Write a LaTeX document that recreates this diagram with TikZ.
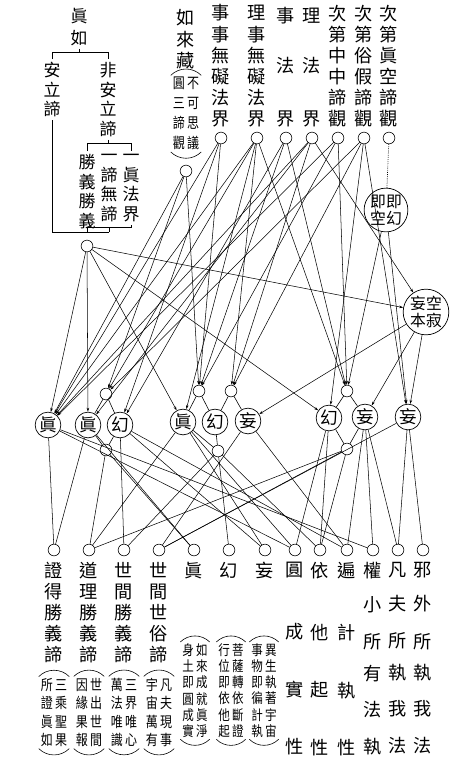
\documentclass[tikz,border=0pt]{standalone}
\usepackage{fontspec}
\setmainfont{Noto Sans CJK TC}
\newfontfamily\smallcjk[FakeStretch=0.82]{Noto Sans CJK TC}
\usetikzlibrary{positioning, arrows.meta}

\begin{document}
\begin{tikzpicture}[
    x = 0.3mm,
    y = -0.3mm,
    tree/.style = {
        align = center,
        inner sep = 2.5pt,
        font = {\fontsize{14.5}{16.8}\selectfont}
    },
    lab/.style = {
        align = center,
        inner sep = 0pt,
        font = {\fontsize{15.5}{18}\selectfont}
    },
    note/.style = {
        align = center,
        inner sep = 1.5pt,
        font = {\smallcjk\fontsize{12.5}{15.6}\selectfont}
    },
    notes/.style = {
        note,
        font = {\smallcjk\fontsize{12}{13.7}\selectfont}
    },
    dot/.style = {
        circle,
        draw,
        line width = 0.5pt,
        minimum size = 10pt,
        inner sep = 0pt
    },
    mid/.style = {
        circle,
        draw,
        line width = 0.6pt,
        minimum size = 22pt,
        inner sep = 0pt,
        font = {\fontsize{15}{15}\selectfont}
    },
    big/.style = {
        circle,
        draw,
        line width = 0.6pt,
        inner sep = 0pt,
        align = center,
        font = {\fontsize{13.5}{14.5}\selectfont}
    },
    brace/.style = {
        line width = 0.6pt
    },
    paren/.style = {
        line width = 0.5pt
    },
    link/.style = {
        ->,
        >={Stealth[length=3.5pt, width=2.2pt]},
        line width = 0.45pt
    },
    drop/.style = {
        line width = 0.45pt
    },
    tie/.style = {
        line width = 0.5pt
    }
]
    \useasboundingbox (0,0) rectangle (474,769);

    % Tree (top left)
    \node [tree, anchor = north] (zhenru) at (79,5) {眞\\[2pt]如};
    \node [tree, anchor = north] (anli) at (52,59) {安\\立\\諦};
    \node [tree, anchor = north] (feian) at (108,59) {非\\安\\立\\諦};
    \node [tree, anchor = north] (sysy) at (87,151) {勝\\義\\勝\\義};
    \node [tree, anchor = north] (ywdi) at (109,151) {一\\諦\\無\\諦};
    \node [tree, anchor = north] (yzfj) at (131,151) {一\\眞\\法\\界};

    \draw [brace] (zhenru.south) -- ++(0,3) coordinate (k1);
    \draw [brace] (anli.north) |- (k1) -| (feian.north);
    \draw [brace] (feian.south) -- ++(0,3) coordinate (k2);
    \draw [brace] (sysy.north) |- (k2) -| (yzfj.north);
    \path (ywdi.south) ++(0,2) coordinate (k3);
    \draw [brace] (sysy.south) |- (k3) -| (yzfj.south);
    \draw [brace] (k3) -- ++(0,5) coordinate (k4);
    \draw [brace] (anli.south) |- (k4);

    \node [dot] (root) at (87,246) {};

    % Top row
    \node [dot] (c1) at (186,171) {};
    \node [dot] (c2) at (221,138) {};
    \node [dot] (c3) at (257,138) {};
    \node [dot] (c4) at (286,138) {};
    \node [dot] (c5) at (312,138) {};
    \node [dot] (c6) at (338,138) {};
    \node [dot] (c7) at (364,138) {};
    \node [dot] (c8) at (389,138) {};

    \node [note, above = 11pt of c1, font = {\smallcjk\fontsize{12.5}{17}\selectfont}] (rlzn) {圓\,不\\三\,可\\諦\,思\\觀\,議};
    \node [lab, above = 5pt of rlzn, font = {\fontsize{15.5}{18.3}\selectfont}] (rlzm) {如\\來\\藏};
    \node [lab, above = 4pt of c2] (t2) {事\\事\\無\\礙\\法\\界};
    \node [lab, above = 4pt of c3] (t3) {理\\事\\無\\礙\\法\\界};
    \node [lab, above = 4pt of c4] (t4) {事\\[25pt]法\\[27pt]界};
    \node [lab, above = 4pt of c5] (t5) {理\\[25pt]法\\[27pt]界};
    \node [lab, above = 4pt of c6] (t6) {次\\第\\中\\中\\諦\\觀};
    \node [lab, above = 4pt of c7] (t7) {次\\第\\俗\\假\\諦\\觀};
    \node [lab, above = 4pt of c8] (t8) {次\\第\\眞\\空\\諦\\觀};

    \draw [paren] (rlzn.north west) to [bend left = 45] (rlzn.north east);
    \draw [paren] (rlzn.south west) to [bend right = 45] (rlzn.south east);

    % Side circles
    \node [big, minimum size = 34pt] (jhjk) at (386,210) {即即\\空幻};
    \node [big, minimum size = 39pt] (kjwb) at (426,312) {妄空\\本寂};
    \draw [densely dotted, line width = 0.6pt] (c8) -- (jhjk);

    % Middle row
    \node [mid] (m1) at (48,425) {眞};
    \node [mid] (m2) at (88,425) {眞};
    \node [mid] (m3) at (120,425) {幻};
    \node [mid] (m4) at (183,422) {眞};
    \node [mid] (m5) at (215,422) {幻};
    \node [mid] (m6) at (248,421) {妄};
    \node [mid] (m7) at (329,418) {幻};
    \node [mid] (m8) at (365,417) {妄};
    \node [mid] (m9) at (408,417) {妄};

    \node [dot] (s1) at (106,394) {};
    \node [dot] (s2) at (106,450) {};
    \node [dot] (s3) at (199,391) {};
    \node [dot] (s4) at (231,391) {};
    \node [dot] (s5) at (218,451) {};
    \node [dot] (s6) at (347,391) {};
    \node [dot] (s7) at (347,449) {};

    \draw [tie] (s1) -- (m2);
    \draw [tie] (s1) -- (m3);
    \draw [tie] (s2) -- (m2);
    \draw [tie] (s2) -- (m3);
    \draw [tie] (s3) -- (m4);
    \draw [tie] (s3) -- (m5);
    \draw [tie] (s4) -- (m5);
    \draw [tie] (s4) -- (m6);
    \draw [tie] (s5) -- (m4);
    \draw [tie] (s5) -- (m5);
    \draw [tie] (s6) -- (m7);
    \draw [tie] (s6) -- (m8);
    \draw [tie] (s7) -- (m7);
    \draw [tie] (s7) -- (m8);

    % Bottom row
    \node [dot] (b1) at (54,550) {};
    \node [dot] (b2) at (89,550) {};
    \node [dot] (b3) at (124,550) {};
    \node [dot] (b4) at (159,550) {};
    \node [dot] (b5) at (194,550) {};
    \node [dot] (b6) at (229,550) {};
    \node [dot] (b7) at (265,550) {};
    \node [dot] (b8) at (295,550) {};
    \node [dot] (b9) at (320,550) {};
    \node [dot] (b10) at (347,550) {};
    \node [dot] (b11) at (373,550) {};
    \node [dot] (b12) at (398,550) {};
    \node [dot] (b13) at (423,550) {};

    \node [lab, below = 5pt of b1] (l1) {證\\得\\勝\\義\\諦};
    \node [lab, below = 5pt of b2] (l2) {道\\理\\勝\\義\\諦};
    \node [lab, below = 5pt of b3] (l3) {世\\間\\勝\\義\\諦};
    \node [lab, below = 5pt of b4] (l4) {世\\間\\世\\俗\\諦};
    \node [lab, below = 5pt of b5] (l5) {眞};
    \node [lab, below = 5pt of b6] (l6) {幻};
    \node [lab, below = 5pt of b7] (l7) {妄};
    \node [lab, below = 5pt of b8] (l8) {圓\\[35pt]成\\[31pt]實\\[31pt]性};
    \node [lab, below = 5pt of b9] (l9) {依\\[35pt]他\\[31pt]起\\[31pt]性};
    \node [lab, below = 5pt of b10] (l10) {遍\\[35pt]計\\[31pt]執\\[31pt]性};
    \node [lab, below = 5pt of b11] (l11) {權\\[11pt]小\\[14pt]所\\[9pt]有\\[13pt]法\\[13pt]執};
    \node [lab, below = 5pt of b12] (l12) {凡\\[11pt]夫\\[14pt]所\\[9pt]執\\[13pt]我\\[13pt]法};
    \node [lab, below = 5pt of b13] (l13) {邪\\[11pt]外\\[14pt]所\\[9pt]執\\[13pt]我\\[13pt]法};

    \node [note, below = 11pt of l1] (p1) {所\,三\\證\,乘\\眞\,聖\\如\,果};
    \node [note, below = 11pt of l2] (p2) {因\,世\\緣\,出\\果\,世\\報\,間};
    \node [note, below = 11pt of l3] (p3) {萬\,三\\法\,界\\唯\,唯\\識\,心};
    \node [note, below = 11pt of l4] (p4) {宇\,凡\\宙\,夫\\萬\,現\\有\,事};
    \node [notes, anchor = north] (p5) at (195,642) {身\,如\\土\,來\\即\,成\\圓\,就\\成\,眞\\實\,淨};
    \node [notes, anchor = north] (p6) at (231,642) {行\,菩\\位\,薩\\即\,轉\\依\,依\\他\,斷\\起\,證};
    \node [notes, anchor = north] (p7) at (264,642) {事\,異\\物\,生\\即\,執\\徧\,著\\計\,宇\\執\,宙};

    \draw [paren] (p1.north west) to [bend left = 45] (p1.north east);
    \draw [paren] (p1.south west) to [bend right = 45] (p1.south east);
    \draw [paren] (p2.north west) to [bend left = 45] (p2.north east);
    \draw [paren] (p2.south west) to [bend right = 45] (p2.south east);
    \draw [paren] (p3.north west) to [bend left = 45] (p3.north east);
    \draw [paren] (p3.south west) to [bend right = 45] (p3.south east);
    \draw [paren] (p4.north west) to [bend left = 45] (p4.north east);
    \draw [paren] (p4.south west) to [bend right = 45] (p4.south east);
    \draw [paren] (p5.north west) to [bend left = 45] (p5.north east);
    \draw [paren] (p5.south west) to [bend right = 45] (p5.south east);
    \draw [paren] (p6.north west) to [bend left = 45] (p6.north east);
    \draw [paren] (p6.south west) to [bend right = 45] (p6.south east);
    \draw [paren] (p7.north west) to [bend left = 45] (p7.north east);
    \draw [paren] (p7.south west) to [bend right = 45] (p7.south east);

    % Top row to middle row
    \draw [link] (c1) -- (m1);
    \draw [link] (c1) -- (s1);
    \draw [link] (c1) -- (s3);
    \draw [link] (c2) -- (m1);
    \draw [link] (c2) -- (m3);
    \draw [link] (c2) -- (s3);
    \draw [link] (c3) -- (m1);
    \draw [link] (c3) -- (s1);
    \draw [link] (c3) -- (m4);
    \draw [link] (c3) -- (s4);
    \draw [link] (c3) -- (s6);
    \draw [link] (c4) -- (m3);
    \draw [link] (c4) -- (s3);
    \draw [link] (c4) -- (s6);
    \draw [link] (c5) -- (m1);
    \draw [link] (c5) -- (m2);
    \draw [link] (c5) -- (s4);
    \draw [link] (c5) -- (kjwb);
    \draw [link] (c6) -- (m1);
    \draw [link] (c6) -- (s3);
    \draw [link] (c6) -- (s6);
    \draw [link] (c7) -- (s1);
    \draw [link] (c7) -- (s4);
    \draw [link] (c7) -- (m7);
    \draw [link] (c7) -- (m9);
    \draw [link] (jhjk) -- (s6);
    \draw [link] (jhjk) -- (m9);
    \draw [link] (root) -- (m1);
    \draw [link] (root) -- (m2);
    \draw [link] (root) -- (m4);
    \draw [link] (root) -- (m7);
    \draw [link] (root) -- (kjwb);
    \draw [link] (kjwb) -- (m6);
    \draw [link] (kjwb) -- (m8);
    \draw [link] (kjwb) -- (m9);

    % Middle row to bottom row
    \draw [drop] (m1) -- (b1);
    \draw [drop] (m1) -- (b8);
    \draw [drop] (m1) -- (b11);
    \draw [drop] (m2) -- (b1);
    \draw [drop] (m2) -- (b5);
    \draw [drop] (s2) -- (b2);
    \draw [drop] (s2) -- (b5);
    \draw [drop] (m3) -- (b3);
    \draw [drop] (m3) -- (b7);
    \draw [drop] (m3) -- (b10);
    \draw [drop] (m4) -- (b2);
    \draw [drop] (m4) -- (b7);
    \draw [drop] (m4) -- (b8);
    \draw [drop] (s5) -- (b3);
    \draw [drop] (s5) -- (b6);
    \draw [drop] (s5) -- (b9);
    \draw [drop] (m6) -- (b4);
    \draw [drop] (m6) -- (b10);
    \draw [drop] (m7) -- (b8);
    \draw [drop] (m7) -- (b9);
    \draw [drop] (s7) -- (b2);
    \draw [drop] (s7) -- (b4);
    \draw [drop] (s7) -- (b9);
    \draw [drop] (m8) -- (b10);
    \draw [drop] (m8) -- (b11);
    \draw [drop] (m8) -- (b12);
    \draw [drop] (m9) -- (b4);
    \draw [drop] (m9) -- (b12);
    \draw [drop] (m9) -- (b13);

\end{tikzpicture}
\end{document}
